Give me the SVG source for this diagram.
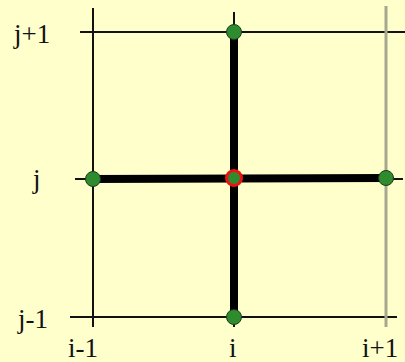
<svg xmlns="http://www.w3.org/2000/svg" width="405" height="362" viewBox="0 0 405 362">
<style>
.grid{stroke:#111;stroke-width:2;fill:none}
.gray{stroke:#a8a890;stroke-width:3;fill:none}
.thick{stroke:#000;stroke-width:8;fill:none}
.lbl{font-family:"Liberation Serif",serif;font-size:27px;fill:#111}
.pt{fill:#2e8b2e;stroke:#1a3a1a;stroke-width:1}
</style>
<rect width="405" height="362" fill="#ffffcc"/>
<g id="connectors">
<line class="grid" x1="80" y1="32" x2="405" y2="32"/>
<line class="grid" x1="75" y1="179" x2="403" y2="179"/>
<line class="grid" x1="70" y1="317" x2="397" y2="317"/>
<line class="grid" x1="93" y1="8" x2="93" y2="327"/>
<line class="grid" x1="234" y1="12" x2="234" y2="327"/>
<line class="gray" x1="386" y1="6" x2="386" y2="327"/>
<line class="thick" x1="93" y1="179" x2="386" y2="178"/>
<line class="thick" x1="234" y1="32" x2="234" y2="317"/>
</g>
<g id="labels">
<text class="lbl" x="14" y="43">j+1</text>
<text class="lbl" x="33" y="188">j</text>
<text class="lbl" x="18" y="328">j-1</text>
<text class="lbl" x="68" y="357">i-1</text>
<text class="lbl" x="229" y="357">i</text>
<text class="lbl" x="362" y="357">i+1</text>
</g>
<g id="n_top"><circle class="pt" cx="234" cy="32" r="7.5"/></g>
<g id="n_left"><circle class="pt" cx="93" cy="179" r="7.5"/></g>
<g id="n_right"><circle class="pt" cx="386" cy="178" r="7.5"/></g>
<g id="n_bottom"><circle class="pt" cx="234" cy="317" r="7.5"/></g>
<g id="n_center"><circle cx="234" cy="178" r="7.5" fill="#2e8b2e" stroke="#ee1111" stroke-width="3"/></g>
</svg>
